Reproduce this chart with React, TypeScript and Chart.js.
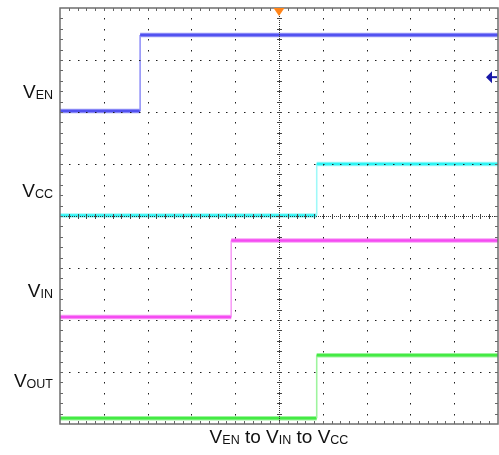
import React, { useEffect, useRef } from 'react';
import { Chart, registerables } from 'chart.js';

Chart.register(...registerables);

// ---- data (in scope divisions) ----
const channelNames = ['EN', 'CC', 'IN', 'OUT'];
const stepTimes = [1.83, 5.86, 3.91, 5.86];
const lowLevels = [6.02, 4.01, 2.06, 0.11];
const highLevels = [7.48, 5.0, 3.53, 1.32];
const xDivisions = 10;
const yDivisions = 8;
const triggerTime = 5;
const refMarkerLevel = 6.67;

// ---- styles ----
const traceColors = ['#5252f0', '#2ef4f4', '#f54cf2', '#44ea44'];
const haloColors = ['#9a9af8', '#9ff9f9', '#f8a0f6', '#9ef49e'];

const FONT = '"Liberation Sans", Arial, Helvetica, sans-serif';

const scopePlugin = {
  id: 'scopeGrid',
  afterDatasetsDraw(chart: any) {
    const { ctx, chartArea, scales } = chart;
    const xs = scales.x;
    const ys = scales.y;
    const L = chartArea.left, R = chartArea.right, T = chartArea.top, B = chartArea.bottom;
    ctx.save();
    // dotted major grid (drawn over the traces, like the scope graticule)
    ctx.fillStyle = '#1e1e1e';
    for (let i = 1; i < xDivisions; i++) {
      if (i === xDivisions / 2) continue;
      const px = Math.round(xs.getPixelForValue(i));
      for (let j = 1; j < yDivisions * 5; j++) {
        const py = Math.round(ys.getPixelForValue(j / 5));
        ctx.fillRect(px, py, 1, 1.5);
      }
    }
    for (let j = 1; j < yDivisions; j++) {
      if (j === yDivisions / 2) continue;
      const py = Math.round(ys.getPixelForValue(j));
      for (let i = 1; i < xDivisions * 5; i++) {
        const px = Math.round(xs.getPixelForValue(i / 5));
        ctx.fillRect(px, py, 1.5, 1);
      }
    }
    const cx = Math.round(xs.getPixelForValue(xDivisions / 2));
    const cy = Math.round(ys.getPixelForValue(yDivisions / 2));
    ctx.fillStyle = '#333';
    for (let y = T; y < B; y += 2) ctx.fillRect(cx, Math.round(y), 1, 1);
    for (let x = L; x < R; x += 2) ctx.fillRect(Math.round(x), cy, 1, 1);
    ctx.fillStyle = '#444';
    for (let j = 1; j < yDivisions * 5; j++) {
      const py = Math.round(ys.getPixelForValue(j / 5));
      ctx.fillRect(cx - 2, py, 5, 1);
    }
    for (let i = 1; i < xDivisions * 5; i++) {
      const px = Math.round(xs.getPixelForValue(i / 5));
      ctx.fillRect(px, cy - 2, 1, 5);
    }
    ctx.fillStyle = '#666';
    for (let j = 1; j < yDivisions * 5; j++) {
      const py = Math.round(ys.getPixelForValue(j / 5));
      ctx.fillRect(L, py, 3, 1);
      ctx.fillRect(R - 3, py, 3, 1);
    }
    for (let i = 1; i < xDivisions * 5; i++) {
      const px = Math.round(xs.getPixelForValue(i / 5));
      ctx.fillRect(px, T, 1, 3);
      ctx.fillRect(px, B - 3, 1, 3);
    }
    ctx.strokeStyle = '#6e6e6e';
    ctx.lineWidth = 1.5;
    ctx.strokeRect(L, T, R - L, B - T);

    // trigger marker
    const tx = xs.getPixelForValue(triggerTime);
    ctx.fillStyle = '#ff8418';
    ctx.beginPath();
    ctx.moveTo(tx - 5.5, T);
    ctx.lineTo(tx + 5.5, T);
    ctx.lineTo(tx, T + 8);
    ctx.closePath();
    ctx.fill();
    // reference level marker
    const ry = ys.getPixelForValue(refMarkerLevel);
    const rx = R - 1;
    ctx.fillStyle = '#1818a8';
    ctx.strokeStyle = '#1818a8';
    ctx.beginPath();
    ctx.moveTo(rx - 11, ry);
    ctx.lineTo(rx - 5, ry - 6);
    ctx.lineTo(rx - 5, ry + 6);
    ctx.closePath();
    ctx.fill();
    ctx.lineWidth = 2;
    ctx.beginPath();
    ctx.moveTo(rx - 6, ry);
    ctx.lineTo(rx, ry);
    ctx.stroke();
    ctx.restore();
  },
};

function tracePoints(i: number) {
  return [
    { x: 0, y: lowLevels[i] },
    { x: stepTimes[i], y: lowLevels[i] },
    { x: stepTimes[i], y: highLevels[i] },
    { x: xDivisions, y: highLevels[i] },
  ];
}

export default function App() {
  const canvasRef = useRef<HTMLCanvasElement | null>(null);

  useEffect(() => {
    if (!canvasRef.current) return;
    const halos = channelNames.map((name, i) => ({
      label: 'V' + name + ' halo',
      data: tracePoints(i),
      borderColor: haloColors[i],
      borderWidth: 4.5,
      pointRadius: 0,
      tension: 0,
      fill: false,
      order: 2,
      segment: {
        borderWidth: (c: any) => (c.p0DataIndex === 1 ? 1.5 : 4.5),
      },
    }));
    const cores = channelNames.map((name, i) => ({
      label: 'V' + name,
      data: tracePoints(i),
      borderColor: traceColors[i],
      borderWidth: 2.5,
      pointRadius: 0,
      tension: 0,
      fill: false,
      order: 1,
      segment: {
        borderColor: (c: any) => (c.p0DataIndex === 1 ? haloColors[i] : traceColors[i]),
        borderWidth: (c: any) => (c.p0DataIndex === 1 ? 1 : 2.5),
      },
    }));
    const chart = new Chart(canvasRef.current, {
      type: 'line',
      data: { datasets: [...halos, ...cores] },
      options: {
        animation: false,
        responsive: true,
        maintainAspectRatio: false,
        layout: { padding: { left: 60, right: 1, top: 8, bottom: 31 } },
        plugins: { legend: { display: false }, tooltip: { enabled: false } },
        scales: {
          x: { type: 'linear', min: 0, max: xDivisions, display: false },
          y: { type: 'linear', min: 0, max: yDivisions, display: false },
        },
      },
      plugins: [scopePlugin],
    } as any);
    return () => chart.destroy();
  }, []);

  const labelStyle = (baseline: number): React.CSSProperties => ({
    position: 'absolute',
    right: 499 - 53,
    top: baseline - 16.1,
    fontSize: 19,
    lineHeight: '19px',
    fontFamily: FONT,
    color: '#111',
    whiteSpace: 'nowrap',
  });
  const sub: React.CSSProperties = { fontSize: 12.5, position: 'relative', top: 1.3, lineHeight: 1 };

  return (
    <div style={{ position: 'fixed', left: 0, top: 0, width: 499, height: 455, background: '#fff' }}>
      <canvas ref={canvasRef} style={{ position: 'absolute', left: 0, top: 0 }} />
      <div style={labelStyle(97.7)}>V<span style={sub}>EN</span></div>
      <div style={labelStyle(196.7)}>V<span style={sub}>CC</span></div>
      <div style={labelStyle(297)}>V<span style={sub}>IN</span></div>
      <div style={labelStyle(387)}>V<span style={sub}>OUT</span></div>
      <div
        style={{
          position: 'absolute',
          left: 60,
          width: 438,
          top: 443.3 - 16.1,
          textAlign: 'center',
          fontSize: 19,
          lineHeight: '19px',
          fontFamily: FONT,
          color: '#111',
          whiteSpace: 'nowrap',
        }}
      >
        V<span style={sub}>EN</span> to V<span style={sub}>IN</span> to V<span style={sub}>CC</span>
      </div>
    </div>
  );
}
